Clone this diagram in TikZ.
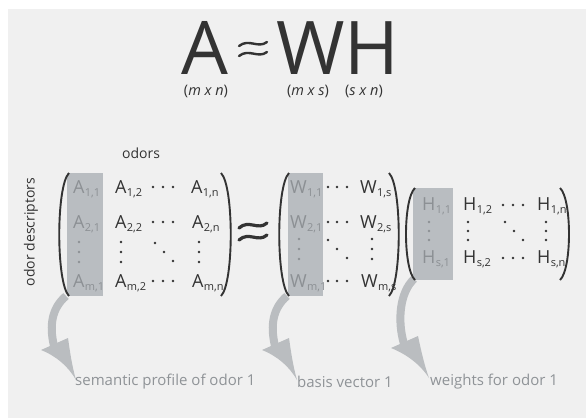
\documentclass[tikz,border=0pt]{standalone}
\usepackage{fontspec}
\setmainfont{Open Sans}
\definecolor{bgc}{HTML}{F0F0F0}
\definecolor{colc}{HTML}{B9BDC1}
\definecolor{arrc}{HTML}{BABDC0}
\definecolor{darkc}{HTML}{333333}
\definecolor{lightc}{HTML}{8C9094}
\definecolor{labc}{HTML}{8F9397}
\newcommand\mel[2]{#1\kern0.3pt\raisebox{-3.2pt}{\fontsize{11}{11}\selectfont #2}}
\begin{document}
\begin{tikzpicture}[x=1pt,y=-1pt,
  ent/.style={anchor=base west,inner sep=0pt,text=darkc,font=\fontsize{18}{18}\selectfont},
  lent/.style={ent,text=lightc},
  paren/.style={draw=darkc,line width=1.9pt},
  dotc/.style={fill=darkc},
  title/.style={inner sep=0pt,text=darkc,text depth=0pt,font=\fontsize{74}{74}\selectfont},
  dim/.style={inner sep=0pt,text=darkc,font=\fontsize{14.5}{14.5}\selectfont},
  lab/.style={inner sep=0pt,anchor=west,text=labc,font=\fontsize{15}{15}\selectfont},
  axis/.style={inner sep=0pt,text=darkc,font=\fontsize{14}{14}\selectfont},
  approx/.style={draw=darkc,line cap=round}
]
\useasboundingbox (0,0) rectangle (587,418);
\fill[white] (0,0) rectangle (587,418);
\fill[bgc] (8,9) rectangle (586,418);

% title
\node[title,anchor=base] (tA) at (205,74) {A};
\node[title,anchor=base west] (tWH) at (276,74) {WH};
\draw[approx,line width=2.4pt] (239,46) .. controls (249,38) and (258,49) .. (267,42);
\draw[approx,line width=2.4pt] (239,56) .. controls (249,48) and (258,59) .. (267,52);
\node[dim] (dA) at (206,91) {(\textit{m x n})};
\node[dim] (dW) at (308,91) {(\textit{m x s})};
\node[dim] (dH) at (364,91) {(\textit{s x n})};

% axis labels
\node[axis] (odors) at (141,153) {odors};
\node[axis,rotate=90] (desc) at (31,232) {odor descriptors};

% gray columns
\fill[colc] (67,173) rectangle (103,296);
\fill[colc] (288,173) rectangle (323,296);
\fill[colc] (413,188) rectangle (453,280);

% arrows
\draw[arrc,line width=8pt] (66,296) .. controls (52,308) and (49,325) .. (54,346);
\fill[arrc] (41,350) .. controls (56,356) and (68,366) .. (76,380) .. controls (72,366) and (70,352) .. (68,338) -- cycle;
\begin{scope}[xshift=221pt]
\draw[arrc,line width=8pt] (66,296) .. controls (52,308) and (49,325) .. (54,346);
\fill[arrc] (41,350) .. controls (56,356) and (68,366) .. (76,380) .. controls (72,366) and (70,352) .. (68,338) -- cycle;
\end{scope}
\draw[arrc,line width=8pt] (414,279) .. controls (400,292) and (397,320) .. (404,344);
\fill[arrc] (391,348) .. controls (406,354) and (420,364) .. (429,378) .. controls (424,364) and (421,350) .. (418,336) -- cycle;

\node[lab] (l1) at (75,382) {semantic profile of odor 1};
\node[lab] (l2) at (297,382) {basis vector 1};
\node[lab] (l3) at (430,382) {weights for odor 1};

% parentheses
\draw[paren] (69,173) .. controls (56,186) and (56,283) .. (69,296);
\draw[paren] (221,173) .. controls (234,186) and (234,283) .. (221,296);
\draw[paren] (289,173) .. controls (276,186) and (276,283) .. (289,296);
\draw[paren] (389,173) .. controls (402,186) and (402,283) .. (389,296);
\draw[paren] (415,188) .. controls (403,199) and (403,269) .. (415,280);
\draw[paren] (560,188) .. controls (572,199) and (572,269) .. (560,280);

% A entries
\node[lent] (a11) at (73,193) {\mel{A}{1,1}};
\node[ent] (a12) at (115,193) {\mel{A}{1,2}};
\node[ent] (a1n) at (191,193) {\mel{A}{1,n}};
\node[lent] (a21) at (73,228) {\mel{A}{2,1}};
\node[ent] (a22) at (115,228) {\mel{A}{2,2}};
\node[ent] (a2n) at (192,228) {\mel{A}{2,n}};
\node[lent] (am1) at (73,287) {\mel{A}{m,1}};
\node[ent] (am2) at (115,287) {\mel{A}{m,2}};
\node[ent] (amn) at (192,287) {\mel{A}{m,n}};
\foreach \y in {187,222,281} \foreach \x in {153,163,173} \fill[dotc] (\x,\y) circle (1.3);
\foreach \y in {242,252,262} \fill[lightc] (79,\y) circle (1.3);
\foreach \y in {242,252,262} \fill[dotc] (121,\y) circle (1.3);
\foreach \y in {242,252,262} \fill[dotc] (199,\y) circle (1.3);
\fill[dotc] (155,243) circle (1.3); \fill[dotc] (164,252) circle (1.3); \fill[dotc] (173,261) circle (1.3);

% approx between
\draw[approx,line width=3.2pt] (239,228) .. controls (249,219) and (258,231) .. (267,223);
\draw[approx,line width=3.2pt] (239,240) .. controls (249,231) and (258,243) .. (267,235);

% W entries
\node[lent] (w11) at (290,193) {\mel{W}{1,1}};
\node[ent] (w1s) at (360,193) {\mel{W}{1,s}};
\node[lent] (w21) at (290,228) {\mel{W}{2,1}};
\node[ent] (w2s) at (360,228) {\mel{W}{2,s}};
\node[lent] (wm1) at (290,287) {\mel{W}{m,1}};
\node[ent] (wms) at (361,287) {\mel{W}{m,s}};
\foreach \y in {187,222,281} \foreach \x in {328,337,347} \fill[dotc] (\x,\y) circle (1.3);
\foreach \y in {239,249,259} \fill[lightc] (299,\y) circle (1.3);
\foreach \y in {239,249,259} \fill[dotc] (372,\y) circle (1.3);
\fill[dotc] (328,240) circle (1.3); \fill[dotc] (337,249) circle (1.3); \fill[dotc] (347,258) circle (1.3);

% H entries
\node[lent] (h11) at (422,210) {\mel{H}{1,1}};
\node[ent] (h12) at (463,210) {\mel{H}{1,2}};
\node[ent] (h1n) at (537,210) {\mel{H}{1,n}};
\node[lent] (hs1) at (422,263) {\mel{H}{s,1}};
\node[ent] (hs2) at (463,263) {\mel{H}{s,2}};
\node[ent] (hsn) at (537,263) {\mel{H}{s,n}};
\foreach \y in {205,258} \foreach \x in {503,513,523} \fill[dotc] (\x,\y) circle (1.3);
\foreach \y in {222,231,240} \fill[lightc] (429,\y) circle (1.3);
\foreach \y in {222,231,240} \fill[dotc] (468,\y) circle (1.3);
\foreach \y in {222,231,240} \fill[dotc] (546,\y) circle (1.3);
\fill[dotc] (505,222) circle (1.3); \fill[dotc] (514,231) circle (1.3); \fill[dotc] (523,240) circle (1.3);
\end{tikzpicture}
\end{document}
